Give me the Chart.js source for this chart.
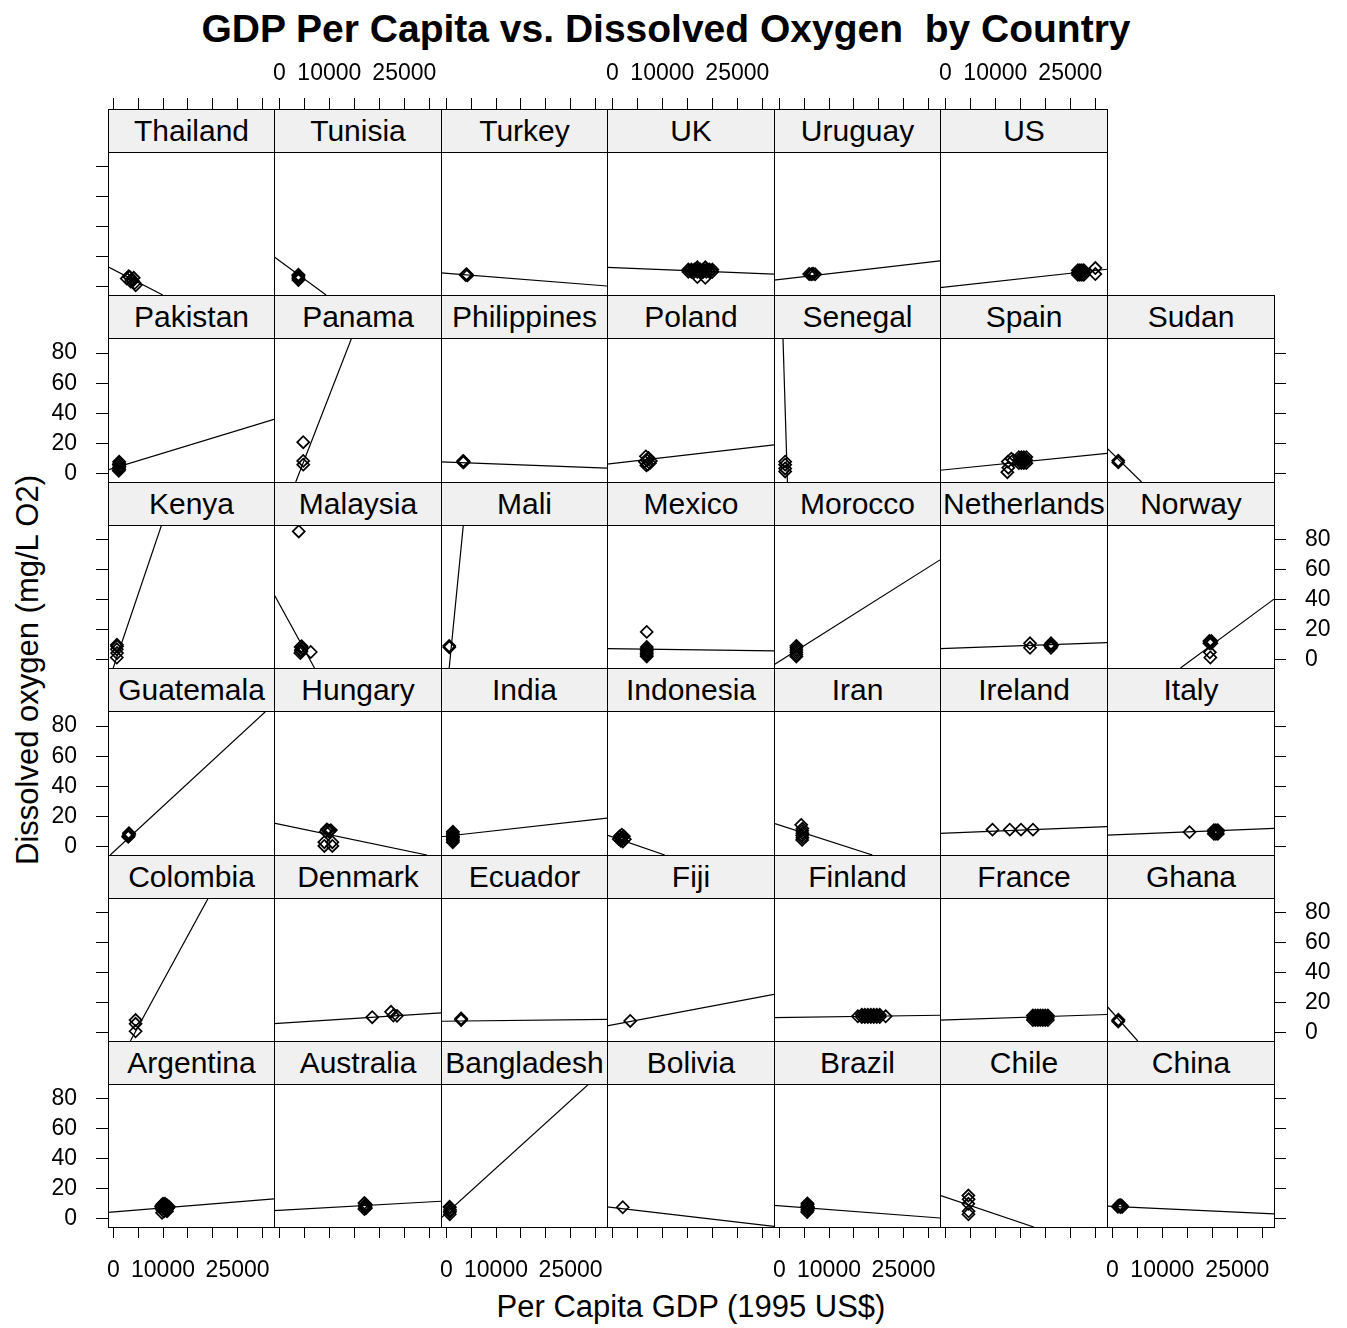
<!DOCTYPE html>
<html>
<head>
<meta charset="utf-8">
<script src="https://cdn.jsdelivr.net/npm/chart.js@4.4.1/dist/chart.umd.min.js"></script>
<style>
  body { margin: 0; background: #fff; font-family: 'Liberation Sans', Arial, sans-serif; }
  #page { position: relative; width: 1347px; height: 1328px; overflow: hidden; }
  canvas { position: absolute; z-index: 1; }
  .strip { position: absolute; box-sizing: border-box; border: 1px solid #000; background: #f0f0f0;
           text-align: center; font-size: 30px; line-height: 41px; color: #000; white-space: nowrap; z-index: 2; }
  .frame { position: absolute; box-sizing: border-box; border: 1px solid #000; z-index: 3; pointer-events: none; }
  .title { position: absolute; left: 0; width: 1332px; top: 7px; text-align: center; font-weight: bold;
           font-size: 39px; white-space: pre; color: #000; }
  .xlab { position: absolute; left: 108px; width: 1166px; top: 1289px; text-align: center; font-size: 31px; color: #000; }
  .ylab { position: absolute; left: 28px; top: 670px; font-size: 31px; color: #000; white-space: nowrap;
          transform: translate(-50%, -50%) rotate(-90deg); }
</style>
</head>
<body>
<div id="page">
  <div class="title">GDP Per Capita vs. Dissolved Oxygen  by Country</div>
  <div class="xlab">Per Capita GDP (1995 US$)</div>
  <div class="ylab">Dissolved oxygen (mg/L O2)</div>
</div>
<script>
// panel order follows the lattice layout: bottom-left first, left to right, then upwards
const countries = ['Argentina', 'Australia', 'Bangladesh', 'Bolivia', 'Brazil', 'Chile', 'China',
  'Colombia', 'Denmark', 'Ecuador', 'Fiji', 'Finland', 'France', 'Ghana',
  'Guatemala', 'Hungary', 'India', 'Indonesia', 'Iran', 'Ireland', 'Italy',
  'Kenya', 'Malaysia', 'Mali', 'Mexico', 'Morocco', 'Netherlands', 'Norway',
  'Pakistan', 'Panama', 'Philippines', 'Poland', 'Senegal', 'Spain', 'Sudan',
  'Thailand', 'Tunisia', 'Turkey', 'UK', 'Uruguay', 'US'];

const X_MIN = -1070, X_MAX = 32330;
const Y_MIN = -5.5, Y_MAX = 90;
const xTickValues = [0, 5000, 10000, 15000, 20000, 25000, 30000];
const xLabels = [0, 10000, 25000];
const yLabels = [0, 20, 40, 60, 80];

// per capita GDP of each observation
const gdp = [
  [9600, 9800, 10000, 10200, 10400, 10600, 10800, 11000, 9800, 10200, 10600, 11200, 10000, 10400, 10800, 9700, 10300, 10700],
  [17000, 17200, 17100, 17300, 17000, 17200, 17100, 17300, 17150],
  [700, 700, 750, 700, 650, 720],
  [2080],
  [5600, 5700, 5650, 5750, 5600, 5700, 5650, 5680, 5720],
  [4600, 4650, 4600, 4650, 4620],
  [1100, 1400, 1700, 2000, 1300, 1800, 1600, 1500, 1200, 1900],
  [4480, 4480, 4480],
  [18580, 22330, 23530, 22800],
  [2980, 2980, 2980],
  [3580],
  [15800, 16600, 17200, 17800, 18400, 19000, 19600, 20200, 16600, 17200, 17800, 18400, 19000, 19600, 20200, 21400],
  [17500, 18000, 18500, 19000, 19500, 20000, 20500, 17500, 18000, 18500, 19000, 19500, 20000, 20500, 17500, 18000, 18500, 19000, 19500, 20000, 20500],
  [1180, 1180, 1200],
  [3000, 3100, 3200, 3150, 3050],
  [9300, 9700, 10100, 9500, 9900, 10300, 9000, 10600, 9000, 10600],
  [1300, 1350, 1300, 1350, 1300, 1350, 1300, 1330, 1320],
  [1300, 1700, 2100, 2500, 1500, 1900, 2300, 2000, 1700],
  [4600, 4650, 4600, 4650, 4600, 4650, 4400],
  [9430, 12880, 15130, 17530],
  [15430, 20300, 20700, 21100, 20300, 20700, 21100, 20300, 20700, 21100],
  [700, 750, 700, 750, 720],
  [3880, 4200, 4400, 4300, 4500, 4250, 4450, 4350, 6280],
  [580, 600],
  [6880, 6880, 6880, 6880, 6880, 6880, 6880, 6880],
  [3430, 3430, 3430, 3430, 3430, 3430],
  [16930, 16930, 21130, 21130, 21130, 20900, 21350],
  [19400, 19800, 19400, 19800, 19600, 19500, 19600],
  [1100, 1200, 1150, 1250, 1100, 1200, 1180],
  [4780, 4780, 4780],
  [3400, 3450, 3500, 3400],
  [6500, 6900, 7300, 7700, 6700, 7100, 7500, 6800, 7200],
  [1180, 1180, 1180, 1180],
  [12400, 12600, 12500, 13200, 13600, 14700, 15200, 15700, 16200, 14700, 15200, 15700, 16200, 14700, 15200, 15700, 16200],
  [1180, 1180],
  [2700, 3300, 3700, 4100, 3500, 3900, 4300, 4500, 3100],
  [3810, 3810, 3810, 3810, 3810],
  [3900, 4070, 4250],
  [15200, 15800, 16400, 17000, 17600, 18200, 18800, 19400, 20000, 15200, 15800, 16400, 17000, 17600, 18200, 18800, 19400, 20000, 17000, 18600, 17000, 18600],
  [6000, 6400, 6800, 7200, 6600],
  [26500, 26900, 27300, 27700, 26500, 26900, 27300, 27700, 26500, 26900, 27300, 27700, 30000, 30000]
];

// dissolved oxygen (mg/L O2) of each observation
const oxygen = [
  [8, 6, 9, 7, 10, 8, 9, 7, 4, 5, 6, 8, 10, 9, 5, 9, 7, 6],
  [6.5, 7.5, 8.5, 9.5, 10.5, 8, 9, 7, 8],
  [3, 4.5, 6, 7.5, 8, 5],
  [7.7],
  [4.5, 5.5, 6.5, 7.5, 8.5, 9.5, 10.3, 6, 8],
  [15.5, 13, 10, 5, 3],
  [8, 8.5, 9, 8, 8.8, 8.3, 7.8, 9, 8.5, 8.5],
  [8.5, 6, 1],
  [10.4, 14, 11.3, 11.5],
  [8.5, 9, 9.5],
  [7.9],
  [11, 10.5, 10.5, 10.5, 10.5, 10.5, 10.5, 10.5, 12, 12, 12, 12, 12, 12, 12, 11],
  [8.5, 8.5, 8.5, 8.5, 8.5, 8.5, 8.5, 10, 10, 10, 10, 10, 10, 10, 11.5, 11.5, 11.5, 11.5, 11.5, 11.5, 11.5],
  [7.5, 8.1, 8.7],
  [6.5, 7.5, 8.5, 9, 7],
  [10, 11, 10.5, 11.5, 10, 11, 3, 3, 0.5, 0.5],
  [3, 4, 5, 6, 7, 8, 9, 10, 6.5],
  [5, 4, 3.5, 5, 7, 8, 7, 6, 5.5],
  [4.5, 6, 7.5, 9, 10.5, 12, 14.5],
  [11.3, 11.3, 11.3, 11.3],
  [9.7, 8.5, 8.5, 8.5, 10, 10, 10, 11, 11, 11],
  [1.5, 4.5, 7, 9, 10],
  [85.7, 4.5, 5.5, 6.5, 7.5, 8.5, 9, 6, 5.2],
  [9.3, 8.3],
  [18.6, 2.2, 3.2, 4.2, 5.2, 6.2, 7.2, 8.5],
  [2.2, 3.5, 5, 6.5, 8, 9.3],
  [8, 11, 8, 9.5, 11, 9.5, 9.5],
  [11, 11, 12.5, 12.5, 11.8, 5, 1.5],
  [2, 3, 4, 5, 6, 7, 8],
  [20.9, 6, 8.5],
  [7.5, 8.3, 7.8, 8.5],
  [8, 9, 10, 8.5, 11.5, 6, 7, 5.5, 10.5],
  [1.5, 3.5, 6, 8],
  [1, 4, 8, 10, 9, 7, 7, 7, 7, 9, 9, 9, 9, 11, 11, 11, 11],
  [7.5, 8.7],
  [5.5, 6.5, 5, 6, 3.5, 4, 2.5, 1, 7],
  [4.5, 5.5, 6.5, 7.5, 8],
  [7.9, 8.4, 7.6],
  [10, 10, 10, 10, 10, 10, 10, 10, 10, 11.5, 11.5, 11.5, 11.5, 11.5, 11.5, 11.5, 11.5, 11.5, 13, 13, 6.5, 6],
  [8.5, 8.3, 8.7, 8.4, 8.6],
  [8, 8, 8, 8, 9.5, 9.5, 9.5, 9.5, 11, 11, 11, 11, 12.5, 8.5]
];

// fitted line of each country: start and end point [gdp, oxygen]
const fitStart = [
  [X_MIN, 4.3], [X_MIN, 5.5], [X_MIN, 0.4], [X_MIN, 7.9], [X_MIN, 9], [X_MIN, 15.7], [X_MIN, 8.4],
  [3430, -5.5], [X_MIN, 6.1], [X_MIN, 7.7], [X_MIN, 4.6], [X_MIN, 10.1], [X_MIN, 8.4], [X_MIN, 17.7],
  [-620, -5.5], [X_MIN, 15.7], [X_MIN, 6.6], [X_MIN, 7.7], [X_MIN, 15.5], [X_MIN, 8.8], [X_MIN, 7.7],
  [-20, -5.5], [X_MIN, 43.8], [580, -5.5], [X_MIN, 7.5], [X_MIN, -3.3], [X_MIN, 7.5], [13630, -5.5],
  [X_MIN, 2.5], [3280, -5.5], [X_MIN, 7.9], [X_MIN, 6.3], [730, 90.6], [X_MIN, 2.3], [X_MIN, 16.9],
  [X_MIN, 13.3], [X_MIN, 20], [X_MIN, 9.3], [X_MIN, 12.9], [X_MIN, 4.4], [X_MIN, -0.6]
];
const fitEnd = [
  [X_MAX, 13.3], [X_MAX, 11.7], [29000, 91], [X_MAX, -5.05], [X_MAX, 0.5], [17680, -5.5], [X_MAX, 3.3],
  [19180, 90.4], [X_MAX, 13.3], [X_MAX, 9], [X_MAX, 25.6], [X_MAX, 11.7], [X_MAX, 12.2], [5080, -5.5],
  [30880, 90.4], [29530, -5.5], [X_MAX, 18.9], [10480, -5.5], [18730, -5.5], [X_MAX, 13.3], [X_MAX, 12.2],
  [9730, 90.2], [7030, -5.5], [3430, 90.2], [X_MAX, 5.9], [X_MAX, 66.7], [X_MAX, 11.5], [X_MAX, 40.5],
  [X_MAX, 36], [14530, 90.6], [X_MAX, 3.7], [X_MAX, 19.1], [1630, -5.5], [X_MAX, 13.5], [5830, -5.5],
  [9950, -5.5], [9350, -5.5], [X_MAX, 0.5], [X_MAX, 8.4], [X_MAX, 17.3], [X_MAX, 11.7]
];

// layout of the grid
const colLeft = [108, 274, 441, 607, 774, 940, 1107, 1274];
const stripTop = [109, 295, 482, 668, 855, 1041, 1227];
const STRIP_H = 43;
const FONT = "'Liberation Sans', Arial, sans-serif";
const tickFont = { family: FONT, size: 23 };

const page = document.getElementById('page');

function xAxis(pos, show, labelled, size, pad) {
  return {
    type: 'linear', position: pos, display: show, min: X_MIN, max: X_MAX,
    grid: { drawOnChartArea: false, drawTicks: true, tickLength: 11, color: '#000', lineWidth: 1 },
    border: { display: true, color: '#000', width: 1 },
    ticks: {
      autoSkip: false, maxRotation: 0, minRotation: 0,
      padding: pad, color: '#000', font: tickFont,
      callback: v => (labelled && xLabels.includes(v)) ? String(v) : ''
    },
    afterBuildTicks: s => { s.ticks = xTickValues.map(v => ({ value: v })); },
    afterFit: s => { s.height = size; s.paddingLeft = 0; s.paddingRight = 0; }
  };
}

function yAxis(pos, show, labelled, size, yMax) {
  return {
    type: 'linear', position: pos, display: show, min: Y_MIN, max: yMax,
    grid: { drawOnChartArea: false, drawTicks: true, tickLength: 12, color: '#000', lineWidth: 1 },
    border: { display: true, color: '#000', width: 1 },
    ticks: {
      autoSkip: false, padding: 19, color: '#000', font: tickFont,
      callback: v => (labelled && yLabels.includes(v)) ? String(v) : ''
    },
    afterBuildTicks: s => { s.ticks = yLabels.map(v => ({ value: v })); },
    afterFit: s => { s.width = size; s.paddingTop = 0; s.paddingBottom = 0; }
  };
}

countries.forEach((name, i) => {
  const c = i % 7;
  const r = 5 - Math.floor(i / 7);
  const left = colLeft[c];
  const w = colLeft[c + 1] - left;
  const plotTop = stripTop[r] + STRIP_H;
  const plotBottom = stripTop[r + 1];
  const plotH = plotBottom - plotTop;

  // strip with the country name
  const strip = document.createElement('div');
  strip.className = 'strip';
  strip.style.left = left + 'px';
  strip.style.top = stripTop[r] + 'px';
  strip.style.width = (w + 1) + 'px';
  strip.style.height = (STRIP_H + 1) + 'px';
  strip.textContent = name;
  page.appendChild(strip);

  const frame = document.createElement('div');
  frame.className = 'frame';
  frame.style.left = left + 'px';
  frame.style.top = plotTop + 'px';
  frame.style.width = (w + 1) + 'px';
  frame.style.height = (plotH + 1) + 'px';
  page.appendChild(frame);

  // the top row carries the top axis above its strip, so its chart area includes the strip
  const areaTop = r === 0 ? stripTop[0] : plotTop;
  const yMax = r === 0 ? Y_MAX + STRIP_H * (Y_MAX - Y_MIN) / plotH : Y_MAX;

  const padL = c === 0 ? 100 : 0;
  const padR = c === 6 ? 72 : 0;
  const padT = r === 0 ? 70 : 0;
  const padB = r === 5 ? 75 : 0;

  const canvas = document.createElement('canvas');
  canvas.width = w + padL + padR;
  canvas.height = (plotBottom - areaTop) + padT + padB;
  canvas.style.left = (left - padL) + 'px';
  canvas.style.top = (areaTop - padT) + 'px';
  page.appendChild(canvas);

  new Chart(canvas, {
    type: 'scatter',
    data: {
      datasets: [{
        data: gdp[i].map((g, k) => ({ x: g, y: oxygen[i][k] })),
        pointStyle: 'rectRot',
        pointRadius: 6,
        pointBorderWidth: 1.7,
        pointBorderColor: '#000',
        pointBackgroundColor: 'rgba(0,0,0,0)',
        clip: 0
      }, {
        data: [{ x: fitStart[i][0], y: fitStart[i][1] }, { x: fitEnd[i][0], y: fitEnd[i][1] }],
        showLine: true,
        pointRadius: 0,
        borderColor: '#000',
        borderWidth: 1.2,
        clip: 0
      }]
    },
    options: {
      responsive: false,
      animation: false,
      devicePixelRatio: 1,
      events: [],
      layout: { padding: 0, autoPadding: false },
      plugins: { legend: { display: false }, tooltip: { enabled: false } },
      scales: {
        x: xAxis('bottom', padB > 0, c % 2 === 0, padB, 19),
        x2: xAxis('top', padT > 0, c % 2 === 1, padT, 11),
        y: yAxis('left', padL > 0, r % 2 === 1, padL, yMax),
        y2: yAxis('right', padR > 0, r % 2 === 0, padR, yMax)
      }
    }
  });
});
</script>
</body>
</html>
